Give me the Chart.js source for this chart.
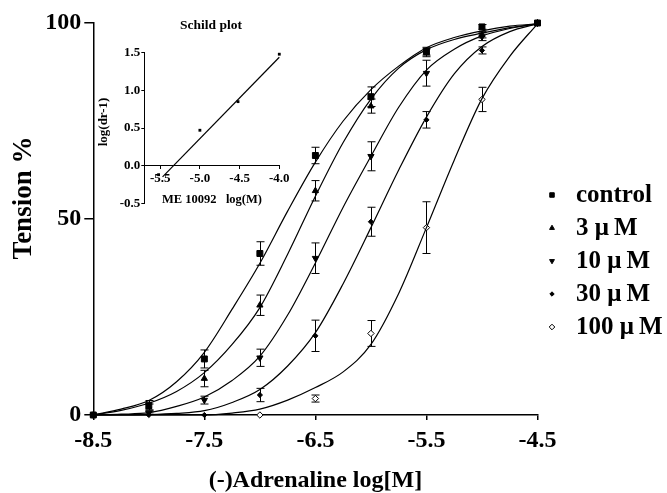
<!DOCTYPE html>
<html>
<head>
<meta charset="utf-8">
<script src="https://cdn.jsdelivr.net/npm/chart.js@4.4.1/dist/chart.umd.min.js"></script>
<style>
  body { margin: 0; background: #fff; }
  #wrap { position: relative; width: 667px; height: 493px; }
  #main, #inset { position: absolute; left: 0; top: 0; }
</style>
</head>
<body>
<div id="wrap">
  <canvas id="main" width="667" height="493"></canvas>
  <canvas id="inset" width="300" height="215"></canvas>
</div>
<script>
// log[M] adrenaline
const doses = [-8.5, -8, -7.5, -7, -6.5, -6, -5.5, -5, -4.5];
const xTicks = [-8.5, -7.5, -6.5, -5.5, -4.5];
const yTicks = [0, 50, 100];

const seriesNames = ['control', '3 μ\u2009M', '10 μ\u2009M', '30 μ\u2009M', '100 μ\u2009M'];

// mean tension %
const controlMean = [0, 2.5, 14.3, 41.2, 66.2, 81.2, 92.8, 99, 100];
const uM3Mean     = [0, 2, 9.3, 28, 57.2, 78.8, 92.4, 97, 100];
const uM10Mean    = [0, 0.5, 3.8, 14.6, 40, 66, 87.2, 96.5, 100];
const uM30Mean    = [0, 0, 0, 5.1, 20.2, 49.3, 75.3, 93, 100];
const uM100Mean   = [null, null, null, 0, 4.2, 20.8, 47.8, 80.5, 100];

// SEM
const controlSem = [0, 1.2, 2.3, 3, 2.1, 2.5, 1, 0.6, 0];
const uM3Sem     = [0, 0.8, 2.1, 2.6, 2.6, 1.8, 1, 0.8, 0];
const uM10Sem    = [0, 0.3, 1, 2.2, 3.9, 3.7, 3.3, 1, 0];
const uM30Sem    = [0, 0, 0, 1.7, 4, 3.7, 2.1, 0.9, 0];
const uM100Sem   = [0, 0, 0, 0, 0.9, 3.3, 6.6, 3.1, 0];

// fitted curves, every 0.25 log unit
const curveX     = [-8.5, -8.25, -8, -7.75, -7.5, -7.25, -7, -6.75, -6.5, -6.25, -6, -5.75, -5.5, -5.25, -5, -4.75, -4.5];
const controlFit = [0, 1.5, 3.7, 8.5, 16, 27, 38.7, 52, 64.5, 75, 83, 89, 93.7, 96.3, 98, 99.2, 99.8];
const uM3Fit     = [0, 1.2, 3.0, 6, 10.8, 18, 27.4, 41, 55.8, 69.5, 80.6, 88.5, 93.2, 95.8, 97.4, 98.8, 99.8];
const uM10Fit    = [0, 0.2, 0.6, 2.2, 4.6, 8.8, 15, 25.5, 38.8, 53, 66, 78.5, 88, 93.3, 96.7, 98.6, 99.8];
const uM30Fit    = [0, 0, 0.1, 0.4, 1.1, 3.2, 6.5, 12.5, 21, 33.5, 47.8, 62.5, 76, 87, 94, 97.8, 99.8];
const uM100Fit   = [0, 0, 0, 0, 0, 0.5, 1.5, 3.8, 7, 11, 18, 31, 47.8, 65, 80.7, 91.5, 99.8];

// Schild plot
const schildX = [-5.52, -5.0, -4.52, -4.0];
const schildY = [-0.12, 0.47, 0.85, 1.48];
const schildLineX = [-5.47, -4.0];
const schildLineY = [-0.15, 1.44];
const schildXTicks = [-5.5, -5.0, -4.5, -4.0];

const means = [controlMean, uM3Mean, uM10Mean, uM30Mean, uM100Mean];
const sems = [controlSem, uM3Sem, uM10Sem, uM30Sem, uM100Sem];
const fits = [controlFit, uM3Fit, uM10Fit, uM30Fit, uM100Fit];

const serif = 'Liberation Serif';
Chart.defaults.font.family = serif;
Chart.defaults.font.weight = 'bold';
Chart.defaults.color = '#000';

const markers = [
  { pointStyle: 'rect', radius: 4.2, rotation: 0, fill: '#000' },
  { pointStyle: 'triangle', radius: 3.6, rotation: 0, fill: '#000' },
  { pointStyle: 'triangle', radius: 3.6, rotation: 180, fill: '#000' },
  { pointStyle: 'rectRot', radius: 2.6, rotation: 0, fill: '#000' },
  { pointStyle: 'rectRot', radius: 3.2, rotation: 0, fill: '#fff' }
];
const legendMarkers = [
  { pointStyle: 'rect', radius: 3.2, rotation: 0, fill: '#000' },
  { pointStyle: 'triangle', radius: 2.8, rotation: 0, fill: '#000' },
  { pointStyle: 'triangle', radius: 2.8, rotation: 180, fill: '#000' },
  { pointStyle: 'rectRot', radius: 2.2, rotation: 0, fill: '#000' },
  { pointStyle: 'rectRot', radius: 2.8, rotation: 0, fill: '#fff' }
];

const curveSets = fits.map(f => ({
  type: 'line',
  data: curveX.map((d, j) => ({ x: d, y: f[j] })),
  borderColor: '#000',
  borderWidth: 1.2,
  pointRadius: 0,
  cubicInterpolationMode: 'monotone',
  fill: false,
  clip: false
}));

const pointSets = means.map((m, i) => ({
  type: 'scatter',
  data: doses.map((d, j) => ({ x: d, y: m[j] })).filter(p => p.y !== null),
  showLine: false,
  pointStyle: markers[i].pointStyle,
  pointRadius: markers[i].radius,
  pointRotation: markers[i].rotation,
  backgroundColor: markers[i].fill,
  borderColor: '#000',
  borderWidth: 1,
  clip: false
}));

const errorBars = {
  id: 'errorBars',
  beforeDatasetsDraw(chart) {
    const { ctx, scales: { x, y } } = chart;
    ctx.save();
    ctx.strokeStyle = '#000';
    ctx.lineWidth = 1;
    means.forEach((m, i) => {
      m.forEach((v, j) => {
        const s = sems[i][j];
        if (v === null || !s) return;
        const px = Math.round(x.getPixelForValue(doses[j])) + 0.5;
        const top = y.getPixelForValue(v + s);
        const bot = y.getPixelForValue(v - s);
        ctx.beginPath();
        ctx.moveTo(px, top); ctx.lineTo(px, bot);
        ctx.moveTo(px - 4, top); ctx.lineTo(px + 4, top);
        ctx.moveTo(px - 4, bot); ctx.lineTo(px + 4, bot);
        ctx.stroke();
      });
    });
    ctx.restore();
  }
};

const sideText = {
  id: 'sideText',
  afterDraw(chart) {
    const ctx = chart.ctx;
    ctx.save();
    ctx.fillStyle = '#000';
    // y title
    ctx.font = 'bold 27px ' + serif;
    ctx.textAlign = 'center';
    ctx.textBaseline = 'middle';
    ctx.translate(24, 198);
    ctx.rotate(-Math.PI / 2);
    ctx.fillText('Tension %', 0, 0);
    ctx.restore();

    // legend
    ctx.save();
    ctx.font = 'bold 25px ' + serif;
    ctx.textAlign = 'left';
    ctx.textBaseline = 'middle';
    seriesNames.forEach((name, i) => {
      const yy = 195 + i * 33;
      const mk = legendMarkers[i];
      ctx.fillStyle = mk.fill;
      ctx.strokeStyle = '#000';
      ctx.lineWidth = 1;
      Chart.helpers.drawPoint(ctx, {
        pointStyle: mk.pointStyle, radius: mk.radius, rotation: mk.rotation, borderWidth: 1
      }, 552, yy);
      ctx.fillStyle = '#000';
      ctx.fillText(name, 576, yy + 1);
    });
    ctx.restore();
  }
};

new Chart(document.getElementById('main'), {
  type: 'scatter',
  data: { datasets: [...curveSets, ...pointSets] },
  options: {
    responsive: false,
    animation: false,
    layout: { padding: { top: 23, right: 129.5, left: 0, bottom: 0 } },
    plugins: { legend: { display: false }, tooltip: { enabled: false } },
    scales: {
      x: {
        type: 'linear',
        min: -8.5,
        max: -4.5,
        afterBuildTicks: s => { s.ticks = xTicks.map(v => ({ value: v })); },
        afterFit: s => { s.height = 78; },
        ticks: {
          font: { size: 24, weight: 'bold' },
          color: '#000',
          padding: 6,
          maxRotation: 0,
          autoSkip: false,
          callback: v => v.toFixed(1)
        },
        grid: { drawOnChartArea: false, drawTicks: true, tickLength: 5, color: '#000', lineWidth: 1.5 },
        border: { color: '#000', width: 1.5 },
        title: {
          display: true,
          text: '(-)Adrenaline log[M]',
          font: { size: 24, weight: 'bold', lineHeight: 1 },
          color: '#000',
          padding: { top: 0, bottom: 0 }
        }
      },
      y: {
        type: 'linear',
        min: 0,
        max: 100,
        afterBuildTicks: s => { s.ticks = yTicks.map(v => ({ value: v })); },
        afterFit: s => { s.width = 93.3; },
        ticks: {
          font: { size: 24, weight: 'bold' },
          color: '#000',
          padding: 3
        },
        grid: { drawOnChartArea: false, drawTicks: true, tickLength: 9, color: '#000', lineWidth: 1.5 },
        border: { color: '#000', width: 1.5 }
      }
    }
  },
  plugins: [errorBars, sideText]
});

// inset: Schild plot
const insetText = {
  id: 'insetText',
  afterDraw(chart) {
    const ctx = chart.ctx;
    ctx.save();
    ctx.fillStyle = '#000';
    ctx.textAlign = 'center';
    ctx.textBaseline = 'middle';
    ctx.font = 'bold 13.5px ' + serif;
    ctx.fillText('Schild plot', 211, 26);
    ctx.font = 'bold 12.5px ' + serif;
    ctx.fillText('ME 10092   log(M)', 212, 199.5);
    ctx.translate(103.5, 122);
    ctx.rotate(-Math.PI / 2);
    ctx.font = 'bold 13px ' + serif;
    ctx.fillText('log(dr-1)', 0, 0);
    ctx.restore();
  }
};

new Chart(document.getElementById('inset'), {
  type: 'scatter',
  data: {
    datasets: [
      {
        type: 'line',
        data: schildLineX.map((x, i) => ({ x, y: schildLineY[i] })),
        borderColor: '#000',
        borderWidth: 1.2,
        pointRadius: 0,
        clip: false
      },
      {
        type: 'scatter',
        data: schildX.map((x, i) => ({ x, y: schildY[i] })),
        pointStyle: 'rect',
        pointRadius: 2,
        backgroundColor: '#000',
        borderColor: '#000',
        borderWidth: 0,
        clip: false
      }
    ]
  },
  options: {
    responsive: false,
    animation: false,
    layout: { padding: { top: 52.7, right: 20.7, left: 0, bottom: 11.7 } },
    plugins: { legend: { display: false }, tooltip: { enabled: false } },
    scales: {
      x: {
        type: 'linear',
        position: { y: 0 },
        min: -5.7,
        max: -4.0,
        afterBuildTicks: s => { s.ticks = schildXTicks.map(v => ({ value: v })); },
        ticks: {
          font: { size: 13, weight: 'bold' },
          color: '#000',
          padding: 2,
          maxRotation: 0,
          autoSkip: false,
          callback: v => v.toFixed(1)
        },
        grid: { drawOnChartArea: false, drawTicks: true, tickLength: 3, color: '#000', lineWidth: 1 },
        border: { color: '#000', width: 1 }
      },
      y: {
        type: 'linear',
        min: -0.5,
        max: 1.5,
        afterFit: s => { s.width = 144.3; },
        ticks: {
          stepSize: 0.5,
          font: { size: 13, weight: 'bold' },
          color: '#000',
          padding: 1,
          callback: v => v.toFixed(1)
        },
        grid: { drawOnChartArea: false, drawTicks: true, tickLength: 3, color: '#000', lineWidth: 1 },
        border: { color: '#000', width: 1 }
      }
    }
  },
  plugins: [insetText]
});
</script>
</body>
</html>
